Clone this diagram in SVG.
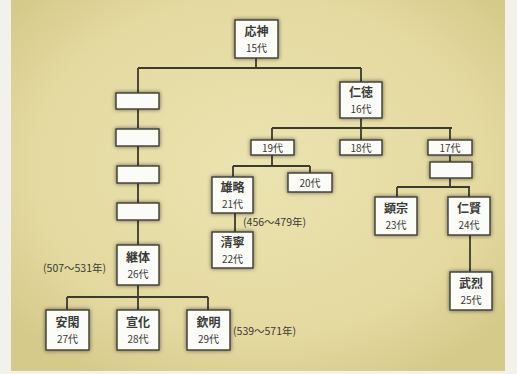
<svg xmlns="http://www.w3.org/2000/svg" width="517" height="374" viewBox="0 0 517 374">
<defs>
<radialGradient id="bg" cx="50%" cy="45%" r="65%">
<stop offset="0" stop-color="#ebe3b0"/>
<stop offset="0.7" stop-color="#e4d9a0"/>
<stop offset="1" stop-color="#d6ca8a"/>
</radialGradient>
<filter id="glow" x="-30%" y="-30%" width="160%" height="160%">
<feGaussianBlur in="SourceAlpha" stdDeviation="2.2"/>
<feComponentTransfer><feFuncA type="linear" slope="0.55"/></feComponentTransfer>
<feMerge><feMergeNode/><feMergeNode in="SourceGraphic"/></feMerge>
</filter>
<style>
.box{fill:#fbfbf7;stroke:#45453c;stroke-width:1.5;filter:url(#glow)}
.ln{fill:none;stroke:#3b3a30;stroke-width:1.8}
.nm{font-family:"Noto Sans CJK JP","Noto Sans",sans-serif;font-size:12px;font-weight:bold;fill:#3a3a36;text-anchor:middle}
.gn{font-family:"Noto Sans CJK JP","Noto Sans",sans-serif;font-size:10px;fill:#3a3a36;text-anchor:middle}
.yr{font-family:"Noto Sans CJK JP","Noto Sans",sans-serif;font-size:10.5px;fill:#3a3a36}
</style>
</defs>
<rect x="0" y="0" width="517" height="374" fill="#f2f1ea"/>
<rect x="11" y="0" width="494" height="371" fill="url(#bg)"/>

<g id="connectors">
<path class="ln" d="M256 58V68M138 68H361M138 68V93M361 68V82"/>
<path class="ln" d="M138 109V128M138 146V166M138 183V203M138 220V245"/>
<path class="ln" d="M138 285V297M67 297H208M67 297V310M138 297V310M208 297V310"/>
<path class="ln" d="M361 118V128M272 128H452M272 128V140M361 128V140M450 128V140"/>
<path class="ln" d="M272 155V166M233 166H310M233 166V177M310 166V173"/>
<path class="ln" d="M235 213V232"/>
<path class="ln" d="M450 155V162M450 178V187M397 187H470M397 187V197M469 187V197"/>
<path class="ln" d="M470 235V272"/>
</g>

<g id="n15"><rect class="box" x="235" y="20" width="43" height="38"/><text class="nm" x="256.5" y="36">応神</text><text class="gn" x="256.5" y="52">15代</text></g>
<g id="nb1"><rect class="box" x="116" y="93" width="43" height="16"/></g>
<g id="nb2"><rect class="box" x="116" y="129" width="43" height="17"/></g>
<g id="nb3"><rect class="box" x="117" y="166" width="42" height="17"/></g>
<g id="nb4"><rect class="box" x="117" y="203" width="42" height="17"/></g>
<g id="n26"><rect class="box" x="117" y="245" width="42" height="40"/><text class="nm" x="138" y="262">継体</text><text class="gn" x="138" y="278">26代</text></g>
<text class="yr" x="43" y="272">(507〜531年)</text>
<g id="n27"><rect class="box" x="46" y="310" width="43" height="40"/><text class="nm" x="67.5" y="327">安閑</text><text class="gn" x="67.5" y="343">27代</text></g>
<g id="n28"><rect class="box" x="117" y="310" width="42" height="40"/><text class="nm" x="138" y="327">宣化</text><text class="gn" x="138" y="343">28代</text></g>
<g id="n29"><rect class="box" x="187" y="310" width="43" height="40"/><text class="nm" x="208.5" y="327">欽明</text><text class="gn" x="208.5" y="343">29代</text></g>
<text class="yr" x="233" y="335">(539〜571年)</text>

<g id="n16"><rect class="box" x="340" y="82" width="42" height="36"/><text class="nm" x="361" y="97">仁徳</text><text class="gn" x="361" y="113">16代</text></g>
<g id="n19"><rect class="box" x="251" y="140" width="43" height="15"/><text class="gn" x="272.5" y="151.5">19代</text></g>
<g id="n18"><rect class="box" x="340" y="140" width="42" height="15"/><text class="gn" x="361" y="151.5">18代</text></g>
<g id="n17"><rect class="box" x="428" y="140" width="44" height="15"/><text class="gn" x="450" y="151.5">17代</text></g>
<g id="nb5"><rect class="box" x="430" y="162" width="42" height="16"/></g>
<g id="n21"><rect class="box" x="212" y="177" width="41" height="36"/><text class="nm" x="232.5" y="192">雄略</text><text class="gn" x="232.5" y="208">21代</text></g>
<g id="n20"><rect class="box" x="288" y="173" width="44" height="19"/><text class="gn" x="310" y="186.5">20代</text></g>
<text class="yr" x="243" y="226">(456〜479年)</text>
<g id="n22"><rect class="box" x="212" y="232" width="41" height="36"/><text class="nm" x="232.5" y="247">清寧</text><text class="gn" x="232.5" y="263">22代</text></g>
<g id="n23"><rect class="box" x="375" y="197" width="42" height="38"/><text class="nm" x="396" y="213">顕宗</text><text class="gn" x="396" y="229">23代</text></g>
<g id="n24"><rect class="box" x="448" y="197" width="42" height="38"/><text class="nm" x="469" y="213">仁賢</text><text class="gn" x="469" y="229">24代</text></g>
<g id="n25"><rect class="box" x="450" y="272" width="42" height="38"/><text class="nm" x="471" y="288">武烈</text><text class="gn" x="471" y="304">25代</text></g>
</svg>
